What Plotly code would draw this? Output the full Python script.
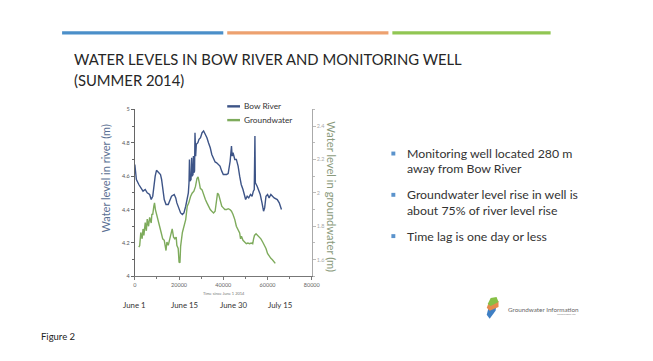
import plotly.graph_objects as go

# ---------------- data ----------------
river_t = [0, 300, 700, 1800, 3000, 3700, 4700, 5600, 6700, 7400, 8100, 8600, 9200, 9800,
           10700, 11600, 12100, 12700, 13300, 14100, 15100, 16000, 16600, 17800, 18500, 19000,
           19600, 20700, 21500, 22200, 23000, 23700, 24200, 24500, 24700, 24900, 25400, 25700,
           25900, 26300, 26500, 26700, 27000, 27200, 27500, 27800, 28500, 29000, 29700, 30400,
           31100, 31500, 31900, 32600, 33300, 34100, 34800, 35600, 36300, 37000, 37800, 38500,
           39300, 40000, 40700, 41500, 42200, 42700, 43100, 43700, 44000, 44400, 45200, 45900,
           46700, 47400, 48100, 48900, 49600, 50100, 50800, 51500, 52300, 53000, 53600, 54000,
           54300, 54500, 55300, 56000, 56700, 57500, 58200, 58700, 59300, 60000, 60700, 61500,
           62300, 63000, 64400, 65300, 66300]
river_level = [4.67, 4.64, 4.58, 4.55, 4.52, 4.51, 4.52, 4.50, 4.49, 4.46, 4.48, 4.54, 4.60, 4.635,
               4.625, 4.61, 4.58, 4.53, 4.46, 4.43, 4.43, 4.46, 4.48, 4.49, 4.47, 4.44,
               4.42, 4.38, 4.37, 4.38, 4.42, 4.46, 4.50, 4.56, 4.70, 4.57, 4.58, 4.71,
               4.60, 4.61, 4.72, 4.62, 4.63, 4.86, 4.72, 4.79, 4.80, 4.82, 4.83, 4.86,
               4.87, 4.86, 4.85, 4.83, 4.80, 4.77, 4.73, 4.70, 4.685, 4.68, 4.67, 4.66,
               4.63, 4.61, 4.61, 4.61, 4.615, 4.65, 4.69, 4.78, 4.72, 4.74, 4.70, 4.70,
               4.66, 4.60, 4.55, 4.52, 4.49, 4.46, 4.48, 4.47, 4.49, 4.48, 4.51, 4.52,
               4.84, 4.56, 4.54, 4.52, 4.49, 4.44, 4.39, 4.41, 4.48, 4.49, 4.47, 4.49,
               4.48, 4.47, 4.46, 4.44, 4.40]

gw_t = [1800, 2200, 2700, 3300, 3700, 4100, 4700, 5200, 5600, 6200, 6700, 7400, 7700, 8100,
        8600, 8900, 9300, 9800, 10400, 11100, 11900, 12600, 13300, 14100, 14500, 15100, 15900,
        16300, 16900, 17500, 18100, 18700, 19000, 19600, 20000, 20400, 20700, 21500, 22200,
        23000, 23700, 24400, 25200, 25900, 26700, 27400, 28100, 28600, 29200, 29600, 30400,
        31100, 31900, 32600, 33300, 34100, 34800, 35600, 36300, 36900, 37400, 37900, 38500,
        39300, 40000, 40700, 41500, 42200, 43000, 43700, 44400, 45200, 45900, 46700, 47400,
        47800, 48200, 48900, 49600, 50400, 51100, 51900, 52600, 53300, 53700, 54100, 54800,
        55600, 56300, 57000, 57800, 58500, 59300, 60000, 60400, 61000, 61500, 62200, 62900, 63500]
gw_level = [1.675, 1.685, 1.763, 1.725, 1.784, 1.745, 1.822, 1.773, 1.843, 1.80, 1.853, 1.82, 1.871, 1.871,
            1.92, 1.94, 1.90, 1.87, 1.853, 1.81, 1.763, 1.725, 1.716, 1.655, 1.706, 1.686, 1.725,
            1.755, 1.784, 1.735, 1.725, 1.735, 1.686, 1.667, 1.586, 1.582, 1.68, 1.763, 1.80,
            1.84, 1.92, 1.94, 1.978, 1.998, 2.01, 2.037, 2.086, 2.096, 2.057, 2.027, 2.018,
            1.988, 1.96, 1.94, 1.92, 1.90, 1.89, 1.88, 1.89, 1.96, 1.998, 1.99, 1.96,
            1.92, 1.91, 1.90, 1.90, 1.905, 1.90, 1.89, 1.87, 1.84, 1.80, 1.78, 1.76,
            1.725, 1.74, 1.716, 1.706, 1.696, 1.70, 1.696, 1.70, 1.696, 1.725, 1.745, 1.755,
            1.745, 1.735, 1.725, 1.706, 1.69, 1.667, 1.637, 1.627, 1.62, 1.608, 1.60, 1.59, 1.578]

x_ticks = [0, 20000, 40000, 60000, 80000]
x_tick_labels = ["0", "20000", "40000", "60000", "80000"]
left_ticks = [4, 4.2, 4.4, 4.6, 4.8, 5]
left_tick_labels = ["4", "4.2", "4.4", "4.6", "4.8", "5"]
right_ticks = [1.6, 1.8, 2.0, 2.2, 2.4]
right_tick_labels = ["1.6", "1.8", "2", "2.2", "2.4"]
date_labels = ["June 1", "June 15", "June 30", "July 15"]
date_label_pos = [0, 22600, 45000, 65500]

title_lines = ["WATER LEVELS IN BOW RIVER AND MONITORING WELL", "(SUMMER 2014)"]
bullets = [["Monitoring well located 280 m", "away from Bow River"],
           ["Groundwater level rise in well is", "about 75% of river level rise"],
           ["Time lag is one day or less"]]

# ---------------- layout helpers ----------------
# the page body keeps its default 8px margin, so the figure is offset by 8px
OFF = 8
W, H = 653 - OFF, 361 - OFF
def fx(p):
    return (p - OFF) / W
def fy(p):
    return 1 - (p - OFF) / H

BLUE = "#3d5487"
GREEN = "#7eab5c"
FONT = "Lato"

fig = go.Figure()
fig.add_trace(go.Scatter(x=river_t, y=river_level, name="Bow River", mode="lines",
                         line=dict(color=BLUE, width=1.4), yaxis="y"))
fig.add_trace(go.Scatter(x=gw_t, y=gw_level, name="Groundwater", mode="lines",
                         line=dict(color=GREEN, width=1.4), yaxis="y2"))

fig.update_layout(
    width=W, height=H, autosize=False,
    margin=dict(l=0, r=0, t=0, b=0),
    paper_bgcolor="white", plot_bgcolor="white",
    showlegend=False,
    font=dict(family=FONT),
    xaxis=dict(domain=[fx(135), fx(315)], range=[0, 80000], showline=True, linecolor="#777",
               linewidth=1, ticks="outside", ticklen=3, tickcolor="#777",
               tickvals=x_ticks, ticktext=x_tick_labels,
               tickfont=dict(size=5.5, color="#666"), showgrid=False, zeroline=False,
               minor=dict(dtick=10000, tick0=0, ticks="outside", ticklen=2, tickcolor="#777")),
    yaxis=dict(domain=[fy(278), fy(108)], range=[4, 5], showline=True, linecolor="#666",
               linewidth=1, ticks="outside", ticklen=3, tickcolor="#666",
               tickvals=left_ticks, ticktext=left_tick_labels,
               tickfont=dict(size=5.5, color="#555"), showgrid=False, zeroline=False,
               minor=dict(dtick=0.1, tick0=4, ticks="outside", ticklen=2, tickcolor="#666")),
    yaxis2=dict(overlaying="y", side="right", anchor="x", range=[1.5, 2.5], showline=True,
                linecolor="#aaa", linewidth=1, ticks="outside", ticklen=3, tickcolor="#bbb",
                tickvals=right_ticks, ticktext=right_tick_labels,
                tickfont=dict(size=5.5, color="#aaa"), showgrid=False, zeroline=False,
                minor=dict(dtick=0.1, tick0=1.5, ticks="outside", ticklen=2, tickcolor="#bbb")),
)

shapes = []
ann = []

# top colour bars
for x0, x1, c in [(61, 225, "#4b8fc9"), (229, 393, "#eda16f"), (397, 558, "#91c653")]:
    shapes.append(dict(type="rect", xref="paper", yref="paper", x0=fx(x0), x1=fx(x1),
                       y0=fy(32), y1=fy(28.5), fillcolor=c, line=dict(width=0)))

# title
for txt, yc in zip(title_lines, [57, 78]):
    ann.append(dict(text=txt, xref="paper", yref="paper", x=fx(71), y=fy(yc),
                    xanchor="left", yanchor="middle", showarrow=False,
                    font=dict(family=FONT, size=14.8, color="#262626")))

# custom legend
for (name, col), yc in zip([("Bow River", BLUE), ("Groundwater", GREEN)], [105, 119]):
    shapes.append(dict(type="line", xref="paper", yref="paper", x0=fx(229), x1=fx(242),
                       y0=fy(yc), y1=fy(yc), line=dict(color=col, width=2.4)))
    ann.append(dict(text=name, xref="paper", yref="paper", x=fx(244), y=fy(yc),
                    xanchor="left", yanchor="middle", showarrow=False,
                    font=dict(family=FONT, size=8.3, color="#333")))

# axis titles
ann.append(dict(text="Water level in river (m)", xref="paper", yref="paper", x=fx(105), y=fy(178),
                textangle=-90, showarrow=False, xanchor="center", yanchor="middle",
                font=dict(family=FONT, size=11, color="#5a6f92")))
ann.append(dict(text="Water level in groundwater (m)", xref="paper", yref="paper", x=fx(335),
                y=fy(197), textangle=90, showarrow=False, xanchor="center", yanchor="middle",
                font=dict(family=FONT, size=11.2, color="#8a9a7c")))
ann.append(dict(text="Time since June 1 2014", xref="paper", yref="paper", x=fx(226), y=fy(295),
                showarrow=False, xanchor="center", yanchor="middle",
                font=dict(family=FONT, size=4, color="#777")))

# date labels under the axis
for lab, pos in zip(date_labels, date_label_pos):
    ann.append(dict(text=lab, xref="x", yref="paper", x=pos, y=fy(307), showarrow=False,
                    xanchor="center", yanchor="middle",
                    font=dict(family=FONT, size=7.8, color="#333")))

# bullets
y = 153
for group in bullets:
    shapes.append(dict(type="rect", xref="paper", yref="paper", x0=fx(396), x1=fx(400),
                       y0=fy(y + 2), y1=fy(y - 2), fillcolor="#5b93cc", line=dict(width=0)))
    for line in group:
        ann.append(dict(text=line, xref="paper", yref="paper", x=fx(410), y=fy(y),
                        xanchor="left", yanchor="middle", showarrow=False,
                        font=dict(family=FONT, size=12.3, color="#333")))
        y += 15.5
    y += 11

# figure caption
ann.append(dict(text="Figure 2", xref="paper", yref="paper", x=fx(37), y=fy(339),
                xanchor="left", yanchor="middle", showarrow=False,
                font=dict(family=FONT, size=9.5, color="#222")))

# logo
def path(pts):
    return "M " + " L ".join(f"{fx(a)},{fy(b)}" for a, b in pts) + " Z"
shapes.append(dict(type="path", xref="paper", yref="paper",
                   path=path([(493, 317), (495, 309), (503, 306), (502, 313), (496, 321)]),
                   fillcolor="#3f7fc4", line=dict(width=0)))
shapes.append(dict(type="path", xref="paper", yref="paper",
                   path=path([(493, 310), (495, 305), (505, 303), (505, 309), (496, 313)]),
                   fillcolor="#e58a4c", line=dict(width=0)))
shapes.append(dict(type="path", xref="paper", yref="paper",
                   path=path([(494, 306), (497, 300), (503, 299), (505, 304), (497, 308)]),
                   fillcolor="#86c046", line=dict(width=0)))
ann.append(dict(text="Groundwater Information", xref="paper", yref="paper", x=fx(513), y=fy(312),
                xanchor="left", yanchor="middle", showarrow=False,
                font=dict(family=FONT, size=6.3, color="#666")))
ann.append(dict(text="Technologies Ltd.", xref="paper", yref="paper", x=fx(586), y=fy(316.5),
                xanchor="right", yanchor="middle", showarrow=False,
                font=dict(family=FONT, size=2.5, color="#888")))

fig.update_layout(shapes=shapes, annotations=ann)
fig.write_html("out.html")
